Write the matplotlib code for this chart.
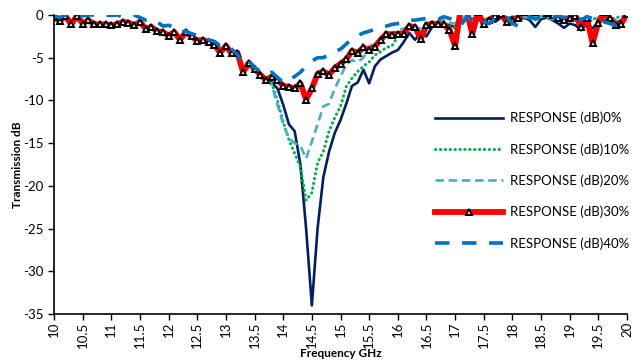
import numpy as np
import matplotlib
matplotlib.use("Agg")
import matplotlib.pyplot as plt

plt.rcParams['font.family'] = ['Lato', 'DejaVu Sans']

freq = [round(10 + 0.1 * i, 1) for i in range(101)]

resp_0 = [-0.3, -0.6, -0.3, -0.9, -0.3, -0.9, -0.7, -1.0, -1.1, -1.1,
          -1.2, -1.1, -0.9, -0.9, -1.1, -0.9, -1.5, -1.5, -1.9, -2.0,
          -2.3, -2.2, -2.7, -2.2, -2.5, -2.9, -3.0, -3.2, -3.5, -4.2,
          -3.8, -4.4, -4.6, -6.3, -5.8, -6.3, -7.0, -7.5, -7.9, -8.6,
          -10.5, -12.8, -13.6, -17.5, -25.0, -34.0, -25.0, -19.0, -16.0, -13.8,
          -12.3, -10.4, -8.3, -7.9, -6.4, -8.0, -6.0, -5.2, -4.8, -4.4,
          -4.1, -3.2, -2.1, -2.9, -2.1, -2.5, -1.4, -1.2, -1.0, -1.2,
          -1.4, -0.6, -0.2, -0.5, -0.3, -0.6, -0.4, -0.8, -0.3, -0.5,
          -0.2, -0.7, -0.3, -0.6, -1.4, -0.5, -0.3, -0.6, -1.0, -1.5,
          -1.0, -1.2, -1.8, -1.0, -1.6, -0.8, -0.5, -0.8, -1.0, -0.6,
          -0.3]

resp_10 = [-0.2, -0.5, -0.2, -0.8, -0.2, -0.8, -0.6, -0.9, -1.0, -1.0,
           -1.1, -1.0, -0.8, -0.8, -1.0, -0.8, -1.4, -1.4, -1.8, -1.9,
           -2.2, -2.1, -2.6, -2.1, -2.4, -2.8, -2.9, -3.1, -3.4, -4.1,
           -3.7, -4.3, -4.5, -6.2, -5.7, -6.2, -6.9, -7.4, -8.0, -10.0,
           -12.5, -14.6, -16.2, -17.8, -21.7, -20.8, -17.3, -16.0, -13.6, -12.0,
           -10.7, -8.4, -7.4, -6.6, -6.0, -5.5, -4.7, -4.3, -3.8, -3.6,
           -2.5, -2.0, -1.6, -1.6, -1.9, -1.2, -1.0, -1.0, -0.9, -1.3,
           -1.5, -0.5, -0.2, -0.4, -0.2, -0.6, -0.3, -0.2, -0.1, -0.4,
           -0.2, -0.3, -0.2, -0.1, -0.2, -0.1, -0.3, -0.2, -0.4, -0.3,
           -0.5, -0.6, -0.4, -0.8, -0.5, -0.3, -0.4, -0.6, -0.3, -0.2,
           -0.1]

resp_20 = [-0.2, -0.6, -0.2, -0.9, -0.2, -0.9, -0.6, -1.0, -1.0, -1.1,
           -1.1, -1.0, -0.8, -0.9, -1.1, -0.8, -1.5, -1.4, -1.8, -2.0,
           -2.3, -2.0, -2.7, -2.1, -2.4, -2.9, -2.9, -3.2, -3.4, -4.2,
           -3.7, -4.4, -4.5, -6.4, -5.7, -6.2, -6.9, -7.5, -8.2, -10.5,
           -12.8, -14.4, -15.0, -15.3, -16.8, -14.8, -12.8, -10.7, -10.4, -8.6,
           -7.2, -5.8, -5.3, -5.5, -5.0, -3.7, -3.3, -3.0, -2.6, -2.1,
           -1.8, -1.6, -1.3, -1.4, -1.6, -1.0, -0.9, -0.8, -0.6, -0.9,
           -1.0, -0.4, -0.3, -0.6, -0.3, -0.5, -0.8, -0.3, -0.2, -0.5,
           -0.6, -0.3, -0.2, -0.4, -0.2, -0.1, -0.3, -0.5, -0.3, -0.2,
           -0.6, -0.4, -0.2, -0.5, -0.7, -0.3, -0.2, -0.4, -0.6, -0.3,
           -0.1]

resp_30 = [-0.2, -0.7, -0.1, -1.1, -0.1, -1.0, -0.6, -1.1, -1.1, -1.1,
           -1.2, -1.1, -0.8, -0.9, -1.2, -0.8, -1.6, -1.4, -1.9, -2.0,
           -2.4, -2.0, -2.9, -2.0, -2.5, -3.0, -2.9, -3.2, -3.5, -4.4,
           -3.6, -4.5, -4.4, -6.7, -5.6, -6.3, -7.0, -7.6, -7.2, -7.6,
           -8.3, -8.4, -8.6, -8.0, -9.9, -8.6, -6.9, -6.6, -7.0, -6.2,
           -5.7, -5.2, -4.2, -4.4, -3.8, -4.1, -3.7, -2.9, -2.2, -2.3,
           -2.2, -2.2, -1.3, -1.4, -2.8, -1.2, -1.0, -1.1, -1.1, -1.7,
           -3.6, 0.8, 0.5, -2.2, 0.3, -1.1, -0.6, -0.1, 0.1, -0.8,
           -0.6, -0.3, 0.4, 0.5, 0.3, 0.6, 0.2, 0.0, -0.3, -0.6,
           -0.3, -0.1, -1.4, -0.4, -3.3, -0.9, 0.3, -0.4, -1.2, -1.0,
           0.1]

resp_40 = [-0.1, -0.3, 0.0, -0.2, 0.0, -0.1, 0.0, 0.0, -0.1, 0.0,
           -0.05, 0.0, -0.2, -0.1, 0.0, -0.3, -0.6, -0.5, -0.8, -1.3,
           -1.2, -1.5, -2.0, -1.9, -2.2, -2.4, -2.8, -2.9, -3.1, -3.6,
           -3.4, -4.0, -4.6, -5.8, -5.4, -6.2, -6.6, -7.0, -6.7, -7.3,
           -7.9, -7.6, -7.2, -6.7, -6.0, -5.4, -5.0, -5.0, -4.6, -4.3,
           -4.0, -3.4, -2.8, -2.4, -2.1, -1.9, -1.7, -1.5, -1.3, -1.1,
           -1.0, -0.9, -0.6, -0.6, -0.5, -0.4, -0.3, -0.5, -0.2, -0.4,
           -0.6, -1.2, -0.3, -0.5, -0.2, -0.8, -1.0, -0.3, -0.5, -0.3,
           -1.0, -1.3, -0.8, -0.2, -0.5, -0.2, -0.1, -0.3, -0.1, -0.3,
           -0.2, -0.5, -0.6, -0.2, -0.4, -0.3, -0.8, -1.0, -1.2, -0.8,
           -0.2]

labels = ["RESPONSE (dB)0%", "RESPONSE (dB)10%", "RESPONSE (dB)20%",
          "RESPONSE (dB)30%", "RESPONSE (dB)40%"]
x_ticks = [10 + 0.5 * i for i in range(21)]
x_tick_labels = ["10", "10.5", "11", "11.5", "12", "12.5", "13", "13.5", "14", "14.5",
                 "15", "15.5", "16", "16.5", "17", "17.5", "18", "18.5", "19", "19.5", "20"]
y_ticks = [0, -5, -10, -15, -20, -25, -30, -35]

fig = plt.figure(figsize=(6.42, 3.63), dpi=100)
ax = fig.add_axes([54 / 642, 1 - 314 / 363, (627 - 54) / 642, (314 - 15) / 363])

ax.plot(freq, resp_0, color='#002060', lw=1.9, label=labels[0])
ax.plot(freq, resp_10, color='#00B050', lw=2.2, linestyle=(0, (0.1, 1.5)),
        dash_capstyle='round', label=labels[1])
ax.plot(freq, resp_20, color='#4BACC6', lw=1.9, linestyle=(0, (3.2, 1.8)), label=labels[2])
ax.plot(freq, resp_30, color='#FF0000', lw=4.2, marker='^', markersize=5,
        markerfacecolor='white', markeredgecolor='black', markeredgewidth=1.4,
        label=labels[3])
ax.plot(freq, resp_40, color='#0070C0', lw=2.6, linestyle=(0, (4.0, 3.5)), label=labels[4])

ax.set_xlim(10, 20)
ax.set_ylim(-35, 0)
ax.set_xticks(x_ticks)
ax.set_xticklabels(x_tick_labels, rotation=90)
ax.set_yticks(y_ticks)
ax.set_yticklabels([str(v) for v in y_ticks])
ax.tick_params(axis='both', labelsize=9.5, length=4, width=1, color='black', direction='out')
ax.tick_params(axis='x', pad=1.5)
for s in ['top', 'right']:
    ax.spines[s].set_visible(False)
for s in ['left', 'bottom']:
    ax.spines[s].set_linewidth(1.2)

ax.set_xlabel("Frequency GHz", fontsize=8.5, fontweight='bold')
ax.set_ylabel("Transmission dB", fontsize=8.5, fontweight='bold')
ax.xaxis.set_label_coords(0.5, (314 - 348) / 299)
ax.yaxis.set_label_coords((23 - 54) / 573, 0.5)

leg = ax.legend(loc='upper left', bbox_to_anchor=(369 / 573, 1 - 85 / 299),
                frameon=False, fontsize=9.5, handlelength=5.2, handletextpad=0.5,
                labelspacing=1.42)

fig.savefig("out.png", dpi=100)
